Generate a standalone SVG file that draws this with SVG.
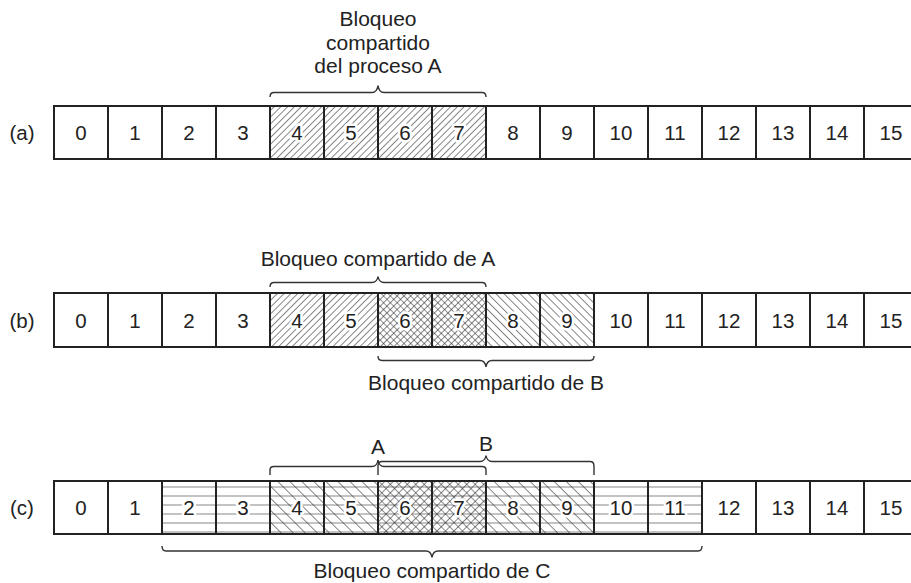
<svg xmlns="http://www.w3.org/2000/svg" width="911" height="583" viewBox="0 0 911 583">
<style>
.c{fill:none;stroke:#222;stroke-width:2}
.t{font-family:"Liberation Sans",Arial,sans-serif;font-size:20.5px;text-anchor:middle;fill:#222}
.l{font-family:"Liberation Sans",Arial,sans-serif;font-size:21px;text-anchor:middle;fill:#222}
.k{paint-order:stroke;stroke:#fff;stroke-width:5;stroke-linejoin:round}
.br{fill:none;stroke:#333;stroke-width:1.4}
</style>
<defs>
<pattern id="hf" patternUnits="userSpaceOnUse" width="4.8" height="10" patternTransform="rotate(45)"><line x1="0" y1="0" x2="0" y2="10" stroke="#222" stroke-width="1.1"/></pattern>
<pattern id="hb" patternUnits="userSpaceOnUse" width="5.7" height="10" patternTransform="rotate(-45)"><line x1="0" y1="0" x2="0" y2="10" stroke="#222" stroke-width="1.1"/></pattern>
<pattern id="hx" patternUnits="userSpaceOnUse" width="4.8" height="4.8" patternTransform="rotate(45)"><path d="M0,0V4.8M0,0H4.8" stroke="#222" stroke-width="1.1" fill="none"/></pattern>
<pattern id="hh" patternUnits="userSpaceOnUse" x="0" y="486.5" width="10" height="9"><line x1="0" y1="0" x2="10" y2="0" stroke="#222" stroke-width="1.1"/></pattern>
<pattern id="hbc" patternUnits="userSpaceOnUse" width="8.5" height="10" patternTransform="rotate(-45)"><line x1="0" y1="0" x2="0" y2="10" stroke="#222" stroke-width="1.1"/></pattern>
<pattern id="hxc" patternUnits="userSpaceOnUse" width="6" height="6" patternTransform="rotate(45)"><path d="M0,0V6M0,0H6" stroke="#222" stroke-width="1.1" fill="none"/></pattern>
</defs>
<rect width="911" height="583" fill="#fff"/>

<g id="labels">
<text class="t" x="22" y="140">(a)</text>
<text class="t" x="22" y="327.5">(b)</text>
<text class="t" x="22" y="515">(c)</text>
<text class="l" x="378" y="26">Bloqueo</text>
<text class="l" x="378" y="49.5">compartido</text>
<text class="l" x="378" y="73">del proceso A</text>
<text class="l" x="378" y="266">Bloqueo compartido de A</text>
<text class="l" x="486" y="390">Bloqueo compartido de B</text>
<text class="l" x="378" y="454">A</text>
<text class="l" x="486" y="451">B</text>
<text class="l" x="432" y="578">Bloqueo compartido de C</text>
</g>

<g id="row-a">
<g id="a0"><rect class="c" x="54" y="106" width="54" height="53"/><text class="t" x="81" y="140">0</text></g>
<g id="a1"><rect class="c" x="108" y="106" width="54" height="53"/><text class="t" x="135" y="140">1</text></g>
<g id="a2"><rect class="c" x="162" y="106" width="54" height="53"/><text class="t" x="189" y="140">2</text></g>
<g id="a3"><rect class="c" x="216" y="106" width="54" height="53"/><text class="t" x="243" y="140">3</text></g>
<g id="a4"><rect x="270" y="106" width="54" height="53" fill="url(#hf)"/><rect class="c" x="270" y="106" width="54" height="53"/><text class="t k" x="297" y="140">4</text></g>
<g id="a5"><rect x="324" y="106" width="54" height="53" fill="url(#hf)"/><rect class="c" x="324" y="106" width="54" height="53"/><text class="t k" x="351" y="140">5</text></g>
<g id="a6"><rect x="378" y="106" width="54" height="53" fill="url(#hf)"/><rect class="c" x="378" y="106" width="54" height="53"/><text class="t k" x="405" y="140">6</text></g>
<g id="a7"><rect x="432" y="106" width="54" height="53" fill="url(#hf)"/><rect class="c" x="432" y="106" width="54" height="53"/><text class="t k" x="459" y="140">7</text></g>
<g id="a8"><rect class="c" x="486" y="106" width="54" height="53"/><text class="t" x="513" y="140">8</text></g>
<g id="a9"><rect class="c" x="540" y="106" width="54" height="53"/><text class="t" x="567" y="140">9</text></g>
<g id="a10"><rect class="c" x="594" y="106" width="54" height="53"/><text class="t" x="621" y="140">10</text></g>
<g id="a11"><rect class="c" x="648" y="106" width="54" height="53"/><text class="t" x="675" y="140">11</text></g>
<g id="a12"><rect class="c" x="702" y="106" width="54" height="53"/><text class="t" x="729" y="140">12</text></g>
<g id="a13"><rect class="c" x="756" y="106" width="54" height="53"/><text class="t" x="783" y="140">13</text></g>
<g id="a14"><rect class="c" x="810" y="106" width="54" height="53"/><text class="t" x="837" y="140">14</text></g>
<g id="a15"><rect class="c" x="864" y="106" width="49" height="53"/><text class="t" x="891" y="140">15</text></g>
</g>

<g id="row-b">
<g id="b0"><rect class="c" x="54" y="293" width="54" height="54"/><text class="t" x="81" y="327.5">0</text></g>
<g id="b1"><rect class="c" x="108" y="293" width="54" height="54"/><text class="t" x="135" y="327.5">1</text></g>
<g id="b2"><rect class="c" x="162" y="293" width="54" height="54"/><text class="t" x="189" y="327.5">2</text></g>
<g id="b3"><rect class="c" x="216" y="293" width="54" height="54"/><text class="t" x="243" y="327.5">3</text></g>
<g id="b4"><rect x="270" y="293" width="54" height="54" fill="url(#hf)"/><rect class="c" x="270" y="293" width="54" height="54"/><text class="t k" x="297" y="327.5">4</text></g>
<g id="b5"><rect x="324" y="293" width="54" height="54" fill="url(#hf)"/><rect class="c" x="324" y="293" width="54" height="54"/><text class="t k" x="351" y="327.5">5</text></g>
<g id="b6"><rect x="378" y="293" width="54" height="54" fill="url(#hx)"/><rect class="c" x="378" y="293" width="54" height="54"/><text class="t k" x="405" y="327.5">6</text></g>
<g id="b7"><rect x="432" y="293" width="54" height="54" fill="url(#hx)"/><rect class="c" x="432" y="293" width="54" height="54"/><text class="t k" x="459" y="327.5">7</text></g>
<g id="b8"><rect x="486" y="293" width="54" height="54" fill="url(#hb)"/><rect class="c" x="486" y="293" width="54" height="54"/><text class="t k" x="513" y="327.5">8</text></g>
<g id="b9"><rect x="540" y="293" width="54" height="54" fill="url(#hb)"/><rect class="c" x="540" y="293" width="54" height="54"/><text class="t k" x="567" y="327.5">9</text></g>
<g id="b10"><rect class="c" x="594" y="293" width="54" height="54"/><text class="t" x="621" y="327.5">10</text></g>
<g id="b11"><rect class="c" x="648" y="293" width="54" height="54"/><text class="t" x="675" y="327.5">11</text></g>
<g id="b12"><rect class="c" x="702" y="293" width="54" height="54"/><text class="t" x="729" y="327.5">12</text></g>
<g id="b13"><rect class="c" x="756" y="293" width="54" height="54"/><text class="t" x="783" y="327.5">13</text></g>
<g id="b14"><rect class="c" x="810" y="293" width="54" height="54"/><text class="t" x="837" y="327.5">14</text></g>
<g id="b15"><rect class="c" x="864" y="293" width="49" height="54"/><text class="t" x="891" y="327.5">15</text></g>
</g>

<g id="row-c">
<g id="c0"><rect class="c" x="54" y="481" width="54" height="53"/><text class="t" x="81" y="515">0</text></g>
<g id="c1"><rect class="c" x="108" y="481" width="54" height="53"/><text class="t" x="135" y="515">1</text></g>
<g id="c2"><rect x="162" y="481" width="54" height="53" fill="url(#hh)"/><rect class="c" x="162" y="481" width="54" height="53"/><text class="t k" x="189" y="515">2</text></g>
<g id="c3"><rect x="216" y="481" width="54" height="53" fill="url(#hh)"/><rect class="c" x="216" y="481" width="54" height="53"/><text class="t k" x="243" y="515">3</text></g>
<g id="c4"><rect x="270" y="481" width="54" height="53" fill="url(#hh)"/><rect x="270" y="481" width="54" height="53" fill="url(#hbc)"/><rect class="c" x="270" y="481" width="54" height="53"/><text class="t k" x="297" y="515">4</text></g>
<g id="c5"><rect x="324" y="481" width="54" height="53" fill="url(#hh)"/><rect x="324" y="481" width="54" height="53" fill="url(#hbc)"/><rect class="c" x="324" y="481" width="54" height="53"/><text class="t k" x="351" y="515">5</text></g>
<g id="c6"><rect x="378" y="481" width="54" height="53" fill="url(#hh)"/><rect x="378" y="481" width="54" height="53" fill="url(#hxc)"/><rect class="c" x="378" y="481" width="54" height="53"/><text class="t k" x="405" y="515">6</text></g>
<g id="c7"><rect x="432" y="481" width="54" height="53" fill="url(#hh)"/><rect x="432" y="481" width="54" height="53" fill="url(#hxc)"/><rect class="c" x="432" y="481" width="54" height="53"/><text class="t k" x="459" y="515">7</text></g>
<g id="c8"><rect x="486" y="481" width="54" height="53" fill="url(#hh)"/><rect x="486" y="481" width="54" height="53" fill="url(#hbc)"/><rect class="c" x="486" y="481" width="54" height="53"/><text class="t k" x="513" y="515">8</text></g>
<g id="c9"><rect x="540" y="481" width="54" height="53" fill="url(#hh)"/><rect x="540" y="481" width="54" height="53" fill="url(#hbc)"/><rect class="c" x="540" y="481" width="54" height="53"/><text class="t k" x="567" y="515">9</text></g>
<g id="c10"><rect x="594" y="481" width="54" height="53" fill="url(#hh)"/><rect class="c" x="594" y="481" width="54" height="53"/><text class="t k" x="621" y="515">10</text></g>
<g id="c11"><rect x="648" y="481" width="54" height="53" fill="url(#hh)"/><rect class="c" x="648" y="481" width="54" height="53"/><text class="t k" x="675" y="515">11</text></g>
<g id="c12"><rect class="c" x="702" y="481" width="54" height="53"/><text class="t" x="729" y="515">12</text></g>
<g id="c13"><rect class="c" x="756" y="481" width="54" height="53"/><text class="t" x="783" y="515">13</text></g>
<g id="c14"><rect class="c" x="810" y="481" width="54" height="53"/><text class="t" x="837" y="515">14</text></g>
<g id="c15"><rect class="c" x="864" y="481" width="49" height="53"/><text class="t" x="891" y="515">15</text></g>
</g>

<g id="connectors">
<path class="br" d="M270,97 Q270,92.5 274,92.5 H372 Q377,92.5 378,85.5 Q379,92.5 384,92.5 H482 Q486,92.5 486,97"/>
<path class="br" d="M270,287 Q270,282.5 274,282.5 H372 Q377,282.5 378,276.5 Q379,282.5 384,282.5 H482 Q486,282.5 486,287"/>
<path class="br" d="M378,356 Q378,360.5 382,360.5 H480 Q485,360.5 486,367 Q487,360.5 492,360.5 H590 Q594,360.5 594,356"/>
<path class="br" d="M270,475 V470 Q270,466.5 274,466.5 H372 Q377,466.5 378,460 Q379,466.5 384,466.5 H482 Q486,466.5 486,470 V475"/>
<path class="br" d="M378,475 V466 Q378,461.5 382,461.5 H480 Q485,461.5 486,455.5 Q487,461.5 492,461.5 H590 Q594,461.5 594,466 V475"/>
<path class="br" d="M162,546 Q162,551 166,551 H426 Q431,551 432,557.5 Q433,551 438,551 H698 Q702,551 702,546"/>
</g>
</svg>
